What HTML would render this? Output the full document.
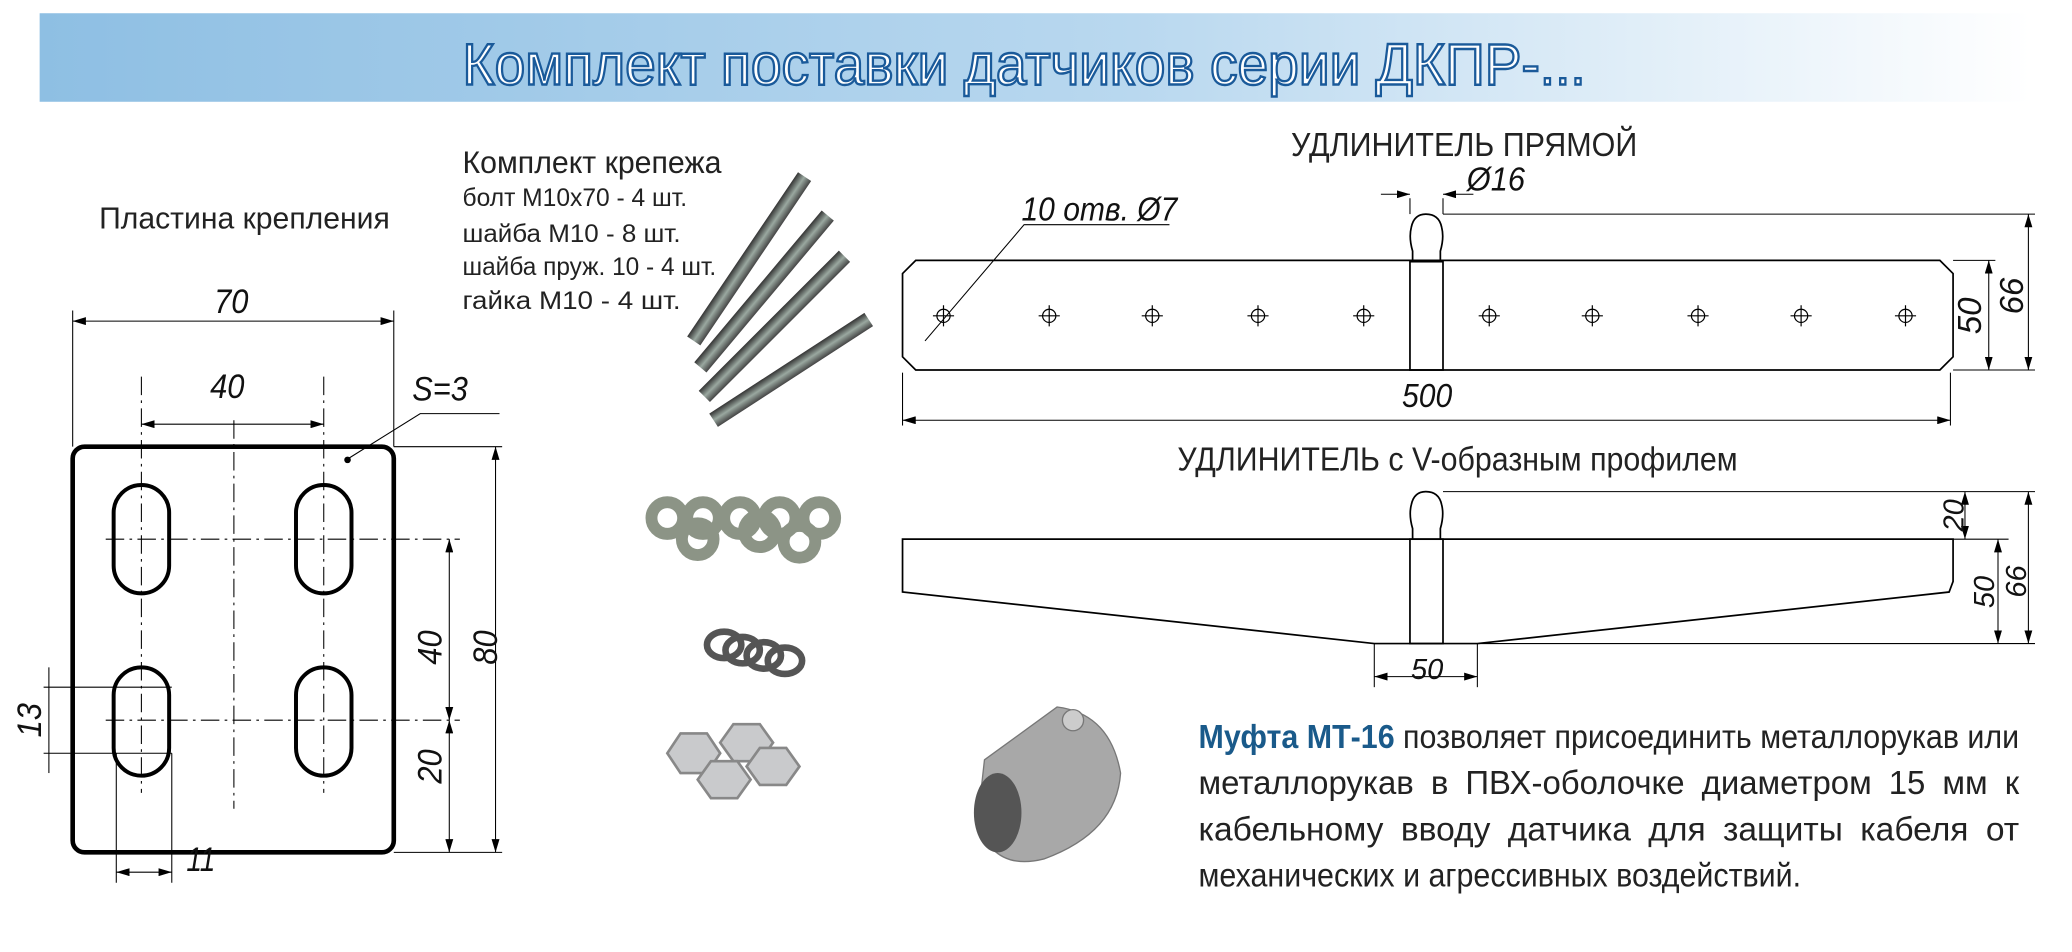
<!DOCTYPE html>
<html><head><meta charset="utf-8"><style>
html,body{margin:0;padding:0;background:#fff;}
svg{display:block;}
text{font-family:"Liberation Sans",sans-serif;}
</style></head><body>
<svg width="2072" height="952" viewBox="0 0 1568 720.4" xmlns="http://www.w3.org/2000/svg">
<defs>
<linearGradient id="tg" x1="0" x2="1" y1="0" y2="0">
<stop offset="0" stop-color="#8ebfe3"/><stop offset="0.55" stop-color="#b9d8ef"/><stop offset="1" stop-color="#ffffff"/>
</linearGradient>
<linearGradient id="bolt" x1="0" x2="0" y1="0" y2="1">
<stop offset="0" stop-color="#333"/><stop offset="0.5" stop-color="#9aa8a0"/><stop offset="1" stop-color="#444"/>
</linearGradient>
<marker id="a" viewBox="0 0 10 6" refX="10" refY="3" markerWidth="10" markerHeight="6" orient="auto-start-reverse" markerUnits="userSpaceOnUse"><path d="M0,0 L10,3 L0,6 z" fill="#000"/></marker>
</defs>
<rect x="30" y="10" width="1507" height="67" fill="url(#tg)"/>
<text x="775" y="64" text-anchor="middle" font-size="44" fill="#fff" stroke="#1a5a9a" stroke-width="1.8" textLength="850" lengthAdjust="spacingAndGlyphs">Комплект поставки датчиков серии ДКПР-...</text>

<g fill="#222">
<text x="75" y="173" font-size="23" textLength="220" lengthAdjust="spacingAndGlyphs">Пластина крепления</text>
<text x="350" y="131" font-size="24" textLength="196" lengthAdjust="spacingAndGlyphs">Комплект крепежа</text>
<text x="350" y="156" font-size="19" textLength="170" lengthAdjust="spacingAndGlyphs">болт М10х70 - 4 шт.</text>
<text x="350" y="183" font-size="19" textLength="165" lengthAdjust="spacingAndGlyphs">шайба М10   - 8 шт.</text>
<text x="350" y="208" font-size="19" textLength="192" lengthAdjust="spacingAndGlyphs">шайба пруж. 10 - 4 шт.</text>
<text x="350" y="234" font-size="19" textLength="165" lengthAdjust="spacingAndGlyphs">гайка М10    - 4 шт.</text>
<text x="1108" y="118" font-size="25" text-anchor="middle" textLength="262" lengthAdjust="spacingAndGlyphs">УДЛИНИТЕЛЬ ПРЯМОЙ</text>
<text x="1103" y="356" font-size="25" text-anchor="middle" textLength="424" lengthAdjust="spacingAndGlyphs">УДЛИНИТЕЛЬ с V-образным профилем</text>
</g>

<!-- plate -->
<g fill="none" stroke="#000">
<rect x="55" y="338" width="243" height="307" rx="9" stroke-width="3.5"/>
<g stroke-width="3">
<rect x="86" y="367" width="42" height="82" rx="21"/>
<rect x="224" y="367" width="42" height="82" rx="21"/>
<rect x="86" y="505" width="42" height="82" rx="21"/>
<rect x="224" y="505" width="42" height="82" rx="21"/>
</g>
<g stroke-width="0.8" stroke-dasharray="14,4,2,4">
<line x1="177" y1="318" x2="177" y2="612"/>
<line x1="80" y1="408" x2="348" y2="408"/>
<line x1="80" y1="545" x2="348" y2="545"/>
<line x1="107" y1="285" x2="107" y2="600"/>
<line x1="245" y1="285" x2="245" y2="600"/>
</g>
<g stroke-width="0.8">
<line x1="55" y1="235" x2="55" y2="338"/><line x1="298" y1="235" x2="298" y2="338"/>
<line x1="55" y1="243" x2="298" y2="243" marker-start="url(#a)" marker-end="url(#a)"/>
<line x1="107" y1="321" x2="245" y2="321" marker-start="url(#a)" marker-end="url(#a)"/>
<line x1="298" y1="338" x2="380" y2="338"/><line x1="298" y1="645" x2="380" y2="645"/>
<line x1="375" y1="338" x2="375" y2="645" marker-start="url(#a)" marker-end="url(#a)"/>
<line x1="340" y1="408" x2="340" y2="545" marker-start="url(#a)" marker-end="url(#a)"/>
<line x1="340" y1="545" x2="340" y2="645" marker-start="url(#a)" marker-end="url(#a)"/>
<line x1="33" y1="520" x2="130" y2="520"/><line x1="33" y1="570" x2="130" y2="570"/>
<line x1="37" y1="505" x2="37" y2="585"/>
<line x1="88" y1="570" x2="88" y2="668"/><line x1="130" y1="570" x2="130" y2="668"/>
<line x1="88" y1="660" x2="130" y2="660" marker-start="url(#a)" marker-end="url(#a)"/>
<polyline points="262,348 318,313 378,313"/>
</g>
</g>
<circle cx="263" cy="348" r="2.5" fill="#000"/>
<g font-size="26" font-style="italic" fill="#111">
<text x="175" y="237" text-anchor="middle" textLength="26" lengthAdjust="spacingAndGlyphs">70</text>
<text x="172" y="301" text-anchor="middle" textLength="26" lengthAdjust="spacingAndGlyphs">40</text>
<text x="333" y="303" text-anchor="middle" textLength="42" lengthAdjust="spacingAndGlyphs">S=3</text>
<text x="152" y="659" text-anchor="middle" textLength="22" lengthAdjust="spacingAndGlyphs">11</text>
<text transform="translate(334,490) rotate(-90)" text-anchor="middle" textLength="26" lengthAdjust="spacingAndGlyphs">40</text>
<text transform="translate(376,490) rotate(-90)" text-anchor="middle" textLength="26" lengthAdjust="spacingAndGlyphs">80</text>
<text transform="translate(334,580) rotate(-90)" text-anchor="middle" textLength="26" lengthAdjust="spacingAndGlyphs">20</text>
<text transform="translate(31,545) rotate(-90)" text-anchor="middle" textLength="26" lengthAdjust="spacingAndGlyphs">13</text>
</g>

<!-- bolts -->
<g>
<rect x="0" y="-6" width="150" height="12" fill="url(#bolt)" transform="translate(525,258) rotate(-56)"/>
<rect x="0" y="-6" width="150" height="12" fill="url(#bolt)" transform="translate(530,278) rotate(-50)"/>
<rect x="0" y="-6" width="150" height="12" fill="url(#bolt)" transform="translate(533,300) rotate(-45)"/>
<rect x="0" y="-6" width="140" height="12" fill="url(#bolt)" transform="translate(540,318) rotate(-33)"/>
</g>
<!-- washers -->
<g fill="none" stroke="#8c9486" stroke-width="9">
<circle cx="505" cy="392" r="12"/><circle cx="532" cy="392" r="12"/><circle cx="560" cy="392" r="12"/>
<circle cx="590" cy="392" r="12"/><circle cx="620" cy="392" r="12"/>
<circle cx="528" cy="408" r="12"/><circle cx="575" cy="402" r="12"/><circle cx="605" cy="410" r="12"/>
</g>
<g fill="none" stroke="#555" stroke-width="5">
<ellipse cx="548" cy="488" rx="13" ry="10"/><ellipse cx="562" cy="492" rx="13" ry="10"/>
<ellipse cx="578" cy="496" rx="13" ry="10"/><ellipse cx="594" cy="500" rx="13" ry="10"/>
</g>
<g fill="#c9cacc" stroke="#888" stroke-width="2">
<polygon points="505,570 515,555 535,555 545,570 535,585 515,585"/>
<polygon points="545,562 555,548 575,548 585,562 575,576 555,576"/>
<polygon points="565,580 575,566 595,566 605,580 595,594 575,594"/>
<polygon points="528,590 538,576 558,576 568,590 558,604 538,604"/>
</g>
<!-- coupling -->
<g>
<path d="M745 575 L800 535 Q840 540 848 585 Q845 630 790 650 Q750 660 740 620 Z" fill="#a8a8a8" stroke="#777"/>
<ellipse cx="755" cy="615" rx="18" ry="30" fill="#555"/>
<circle cx="812" cy="545" r="8" fill="#ccc" stroke="#777"/>
</g>

<!-- straight extension -->
<g fill="none" stroke="#000" stroke-width="1.3">
<path d="M693,197 L1468,197 L1478,207 L1478,270 L1468,280 L693,280 L683,270 L683,207 Z"/>
<rect x="1067" y="198" width="25" height="82"/>
<path d="M1069,198 L1069,190 Q1066,180 1068,172 Q1070,162 1079,162 Q1089,162 1091,172 Q1093,180 1090,190 L1090,198"/>
</g>
<g fill="none" stroke="#000" stroke-width="0.8">
<line x1="1092" y1="162" x2="1540" y2="162"/><line x1="1478" y1="197" x2="1510" y2="197"/>
<line x1="1478" y1="280" x2="1540" y2="280"/>
<line x1="1535" y1="162" x2="1535" y2="280" marker-start="url(#a)" marker-end="url(#a)"/>
<line x1="1505" y1="197" x2="1505" y2="280" marker-start="url(#a)" marker-end="url(#a)"/>
<line x1="683" y1="282" x2="683" y2="322"/><line x1="1476" y1="282" x2="1476" y2="322"/>
<line x1="683" y1="318" x2="1476" y2="318" marker-start="url(#a)" marker-end="url(#a)"/>
<line x1="1067" y1="150" x2="1067" y2="162"/><line x1="1092" y1="150" x2="1092" y2="162"/>
<line x1="1045" y1="147" x2="1067" y2="147" marker-end="url(#a)"/>
<line x1="1092" y1="147" x2="1115" y2="147" marker-start="url(#a)"/>
<polyline points="885,170 775,170 700,258" />
</g>
<g fill="none" stroke="#000" stroke-width="0.9">
<circle cx="714" cy="239" r="5"/><circle cx="794" cy="239" r="5"/><circle cx="872" cy="239" r="5"/>
<circle cx="952" cy="239" r="5"/><circle cx="1032" cy="239" r="5"/><circle cx="1127" cy="239" r="5"/>
<circle cx="1205" cy="239" r="5"/><circle cx="1285" cy="239" r="5"/><circle cx="1363" cy="239" r="5"/>
<circle cx="1442" cy="239" r="5"/>
<path d="M706,239h16M714,231v16 M786,239h16M794,231v16 M864,239h16M872,231v16 M944,239h16M952,231v16 M1024,239h16M1032,231v16 M1119,239h16M1127,231v16 M1197,239h16M1205,231v16 M1277,239h16M1285,231v16 M1355,239h16M1363,231v16 M1434,239h16M1442,231v16"/>
</g>
<g font-size="25" font-style="italic" fill="#111">
<text x="832" y="167" text-anchor="middle" textLength="118" lengthAdjust="spacingAndGlyphs">10 отв. Ø7</text>
<text x="1132" y="144" text-anchor="middle" textLength="44" lengthAdjust="spacingAndGlyphs">Ø16</text>
<text x="1080" y="308" text-anchor="middle" textLength="38" lengthAdjust="spacingAndGlyphs">500</text>
<text transform="translate(1499,239) rotate(-90)" text-anchor="middle">50</text>
<text transform="translate(1531,224) rotate(-90)" text-anchor="middle">66</text>
</g>

<!-- V extension -->
<g fill="none" stroke="#000" stroke-width="1.3">
<path d="M683,408 L1478,408 L1478,440 L1475,448 L1118,487 L1040,487 L683,448 Z"/>
<rect x="1067" y="408" width="25" height="79"/>
<path d="M1069,408 L1069,400 Q1066,390 1068,382 Q1070,372 1079,372 Q1089,372 1091,382 Q1093,390 1090,400 L1090,408"/>
</g>
<g fill="none" stroke="#000" stroke-width="0.8">
<line x1="1092" y1="372" x2="1540" y2="372"/><line x1="1478" y1="408" x2="1520" y2="408"/>
<line x1="1118" y1="487" x2="1540" y2="487"/>
<line x1="1535" y1="372" x2="1535" y2="487" marker-start="url(#a)" marker-end="url(#a)"/>
<line x1="1487" y1="372" x2="1487" y2="408" marker-start="url(#a)" marker-end="url(#a)"/>
<line x1="1512" y1="408" x2="1512" y2="487" marker-start="url(#a)" marker-end="url(#a)"/>
<line x1="1040" y1="487" x2="1040" y2="520"/><line x1="1118" y1="487" x2="1118" y2="520"/>
<line x1="1040" y1="512" x2="1118" y2="512" marker-start="url(#a)" marker-end="url(#a)"/>
</g>
<g font-size="22" font-style="italic" fill="#111">
<text transform="translate(1486,390) rotate(-90)" text-anchor="middle">20</text>
<text transform="translate(1509,448) rotate(-90)" text-anchor="middle">50</text>
<text transform="translate(1533,440) rotate(-90)" text-anchor="middle">66</text>
<text x="1080" y="514" text-anchor="middle">50</text>
</g>

<!-- paragraph -->
<g font-size="25" fill="#222">
<text x="907" y="566" textLength="621" lengthAdjust="spacingAndGlyphs"><tspan font-weight="bold" fill="#1a5a8a">Муфта МТ-16</tspan> позволяет присоединить металлорукав или</text>
<text x="907" y="601" textLength="621" lengthAdjust="spacingAndGlyphs" word-spacing="6">металлорукав в ПВХ-оболочке диаметром 15 мм к</text>
<text x="907" y="636" textLength="621" lengthAdjust="spacingAndGlyphs" word-spacing="6">кабельному вводу датчика для защиты кабеля от</text>
<text x="907" y="671" textLength="456" lengthAdjust="spacingAndGlyphs">механических и агрессивных воздействий.</text>
</g>
</svg>
</body></html>
